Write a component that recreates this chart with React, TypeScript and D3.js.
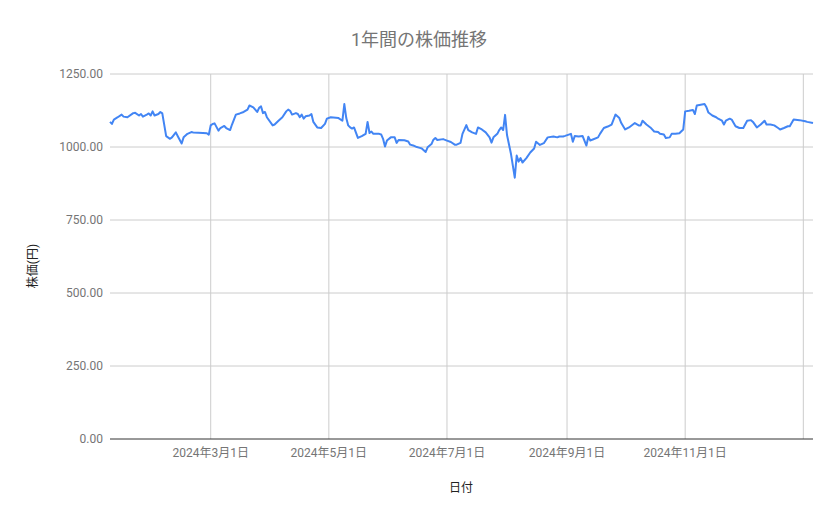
import React from "react";
import * as d3 from "d3";

const dates: string[] = [
  "2024-01-09","2024-01-10","2024-01-11","2024-01-13","2024-01-15","2024-01-16","2024-01-18","2024-01-21","2024-01-22","2024-01-24",
  "2024-01-25","2024-01-26","2024-01-28","2024-01-29","2024-01-30","2024-01-31","2024-02-01","2024-02-03","2024-02-04","2024-02-05",
  "2024-02-07","2024-02-09","2024-02-10","2024-02-12","2024-02-13","2024-02-15","2024-02-16","2024-02-18","2024-02-20","2024-02-21",
  "2024-02-26","2024-02-28","2024-02-29","2024-03-01","2024-03-02","2024-03-03","2024-03-05","2024-03-06","2024-03-08","2024-03-09",
  "2024-03-11","2024-03-12","2024-03-14","2024-03-16","2024-03-18","2024-03-20","2024-03-21","2024-03-23","2024-03-25","2024-03-26",
  "2024-03-27","2024-03-28","2024-03-29","2024-03-30","2024-04-02","2024-04-03","2024-04-05","2024-04-07","2024-04-09","2024-04-10",
  "2024-04-11","2024-04-12","2024-04-14","2024-04-15","2024-04-16","2024-04-17","2024-04-18","2024-04-19","2024-04-21","2024-04-22",
  "2024-04-23","2024-04-25","2024-04-27","2024-04-29","2024-04-30","2024-05-02","2024-05-06","2024-05-08","2024-05-09","2024-05-10",
  "2024-05-11","2024-05-12","2024-05-13","2024-05-14","2024-05-16","2024-05-18","2024-05-20","2024-05-21","2024-05-22","2024-05-23",
  "2024-05-24","2024-05-27","2024-05-28","2024-05-29","2024-05-30","2024-05-31","2024-06-02","2024-06-04","2024-06-05","2024-06-06",
  "2024-06-09","2024-06-11","2024-06-12","2024-06-14","2024-06-15","2024-06-17","2024-06-18","2024-06-20","2024-06-21","2024-06-23",
  "2024-06-24","2024-06-25","2024-06-26","2024-06-29","2024-07-01","2024-07-03","2024-07-05","2024-07-06","2024-07-08","2024-07-09",
  "2024-07-11","2024-07-12","2024-07-14","2024-07-16","2024-07-17","2024-07-19","2024-07-21","2024-07-23","2024-07-24","2024-07-25",
  "2024-07-27","2024-07-28","2024-07-29","2024-07-30","2024-07-31","2024-08-01","2024-08-03","2024-08-05","2024-08-06","2024-08-07",
  "2024-08-08","2024-08-09","2024-08-11","2024-08-13","2024-08-15","2024-08-16","2024-08-18","2024-08-20","2024-08-22","2024-08-25",
  "2024-08-27","2024-08-28","2024-08-30","2024-08-31","2024-09-03","2024-09-04","2024-09-05","2024-09-07","2024-09-09","2024-09-11",
  "2024-09-12","2024-09-13","2024-09-14","2024-09-17","2024-09-18","2024-09-20","2024-09-22","2024-09-24","2024-09-26","2024-09-28",
  "2024-09-29","2024-10-01","2024-10-03","2024-10-05","2024-10-06","2024-10-08","2024-10-09","2024-10-10","2024-10-12","2024-10-14",
  "2024-10-16","2024-10-18","2024-10-19","2024-10-21","2024-10-22","2024-10-24","2024-10-25","2024-10-27","2024-10-29","2024-10-31",
  "2024-11-01","2024-11-03","2024-11-05","2024-11-06","2024-11-07","2024-11-09","2024-11-11","2024-11-12","2024-11-13","2024-11-15",
  "2024-11-17","2024-11-18","2024-11-20","2024-11-21","2024-11-22","2024-11-24","2024-11-25","2024-11-27","2024-11-29","2024-12-01",
  "2024-12-03","2024-12-05","2024-12-06","2024-12-08","2024-12-10","2024-12-12","2024-12-13","2024-12-15","2024-12-17","2024-12-19",
  "2024-12-20","2024-12-22","2024-12-24","2024-12-25","2024-12-27","2024-12-30","2025-01-02","2025-01-03","2025-01-06"
];

const prices: number[] = [
  1086,1079,1094,1102,1111,1104,1102,1116,1117,1108,
  1113,1104,1111,1115,1108,1122,1108,1113,1120,1115,
  1037,1028,1033,1050,1037,1012,1033,1045,1051,1050,
  1048,1047,1042,1074,1079,1081,1056,1065,1072,1065,
  1058,1077,1111,1115,1120,1128,1142,1136,1120,1134,
  1139,1116,1120,1102,1074,1077,1090,1102,1122,1128,
  1124,1111,1116,1113,1102,1111,1097,1105,1108,1113,
  1086,1067,1065,1079,1097,1102,1099,1090,1147,1099,
  1074,1067,1063,1067,1031,1037,1045,1086,1048,1053,
  1045,1045,1043,1028,1002,1022,1033,1033,1014,1024,
  1023,1019,1008,1004,1001,997,995,983,999,1010,
  1025,1031,1024,1027,1022,1017,1008,1008,1014,1045,
  1075,1058,1050,1045,1067,1060,1050,1033,1015,1033,
  1045,1058,1067,1058,1110,1041,978,895,971,950,
  962,947,962,981,995,1018,1007,1013,1033,1036,
  1033,1036,1036,1038,1045,1018,1038,1036,1038,1005,
  1035,1022,1025,1033,1045,1065,1070,1077,1111,1099,
  1082,1060,1067,1077,1082,1074,1074,1090,1077,1067,
  1053,1051,1045,1043,1031,1033,1045,1045,1047,1060,
  1122,1124,1127,1113,1142,1145,1147,1136,1118,1108,
  1102,1097,1090,1077,1090,1097,1094,1071,1065,1065,
  1090,1092,1086,1067,1077,1090,1077,1077,1074,1065,
  1060,1065,1071,1071,1094,1092,1088,1086,1082
];

const yTicks: number[] = [0, 250, 500, 750, 1000, 1250];
const xTickDates: string[] = ["2024-03-01", "2024-05-01", "2024-07-01", "2024-09-01", "2024-11-01", "2025-01-01"];
const xTickLabels: string[] = ["2024年3月1日", "2024年5月1日", "2024年7月1日", "2024年9月1日", "2024年11月1日", ""];

const title = "1年間の株価推移";
const xTitle = "日付";
const yTitle = "株価(円)";

const W = 839;
const H = 519;
const FONT = "Roboto, 'Noto Sans CJK JP', sans-serif";

export default function App() {
  const parse = d3.timeParse("%Y-%m-%d");
  const data = dates.map((d, i) => ({ date: parse(d) as Date, value: prices[i] }));
  const left = 110, right = 813, top = 74, bottom = 439;

  const x = d3.scaleTime()
    .domain(d3.extent(data, (d) => d.date) as [Date, Date])
    .range([left, right]);
  const y = d3.scaleLinear().domain([0, 1250]).range([bottom, top]);

  const line = d3.line<{ date: Date; value: number }>()
    .x((d) => x(d.date))
    .y((d) => y(d.value));

  return (
    <svg width={W} height={H} style={{ position: "absolute", left: 0, top: 0, background: "#fff" }} fontFamily={FONT}>
      <rect x={0} y={0} width={W} height={H} fill="#fff" />
      <text x={419} y={46} textAnchor="middle" fontSize={18} fill="#757575">{title}</text>
      {yTicks.map((t) => (
        <g key={t}>
          {t !== 0 && <line x1={left} x2={right} y1={y(t)} y2={y(t)} stroke="#cccccc" strokeWidth={1} />}
          <text x={103} y={y(t)} dy="0.35em" textAnchor="end" fontSize={12} fill="#757575">{t.toFixed(2)}</text>
        </g>
      ))}
      {xTickDates.map((d, i) => {
        const xv = x(parse(d) as Date);
        return (
          <g key={d}>
            <line x1={xv} x2={xv} y1={top} y2={bottom} stroke="#cccccc" strokeWidth={1} />
            <text x={xv} y={457} textAnchor="middle" fontSize={12} fill="#757575">{xTickLabels[i]}</text>
          </g>
        );
      })}
      <line x1={left} x2={right} y1={bottom} y2={bottom} stroke="#333333" strokeWidth={1} />
      <path d={line(data) || ""} fill="none" stroke="#4285F4" strokeWidth={2} strokeLinejoin="round" />
      <text x={461} y={492} textAnchor="middle" fontSize={12} fill="#222">{xTitle}</text>
      <text transform={`translate(37,266) rotate(-90)`} textAnchor="middle" fontSize={12} fill="#222">{yTitle}</text>
    </svg>
  );
}
